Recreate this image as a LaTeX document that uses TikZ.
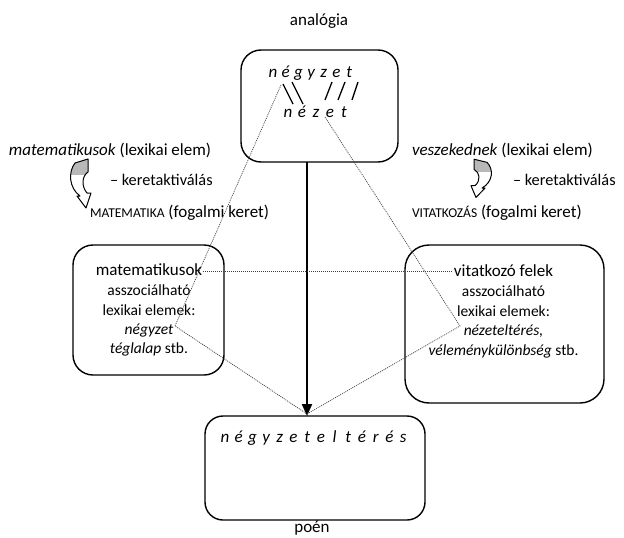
\documentclass[tikz,border=0pt]{standalone}
\usepackage{fontspec}
\setmainfont{Carlito}
\usetikzlibrary{arrows.meta}
\begin{document}
\begin{tikzpicture}[x=1pt,y=-1pt,
  txt/.style={inner sep=0pt, outer sep=0pt, font=\fontsize{17}{20}\selectfont},
  ittxt/.style={inner sep=0pt, outer sep=0pt, font=\fontsize{17}{20}\selectfont\itshape},
  stxt/.style={inner sep=0pt, outer sep=0pt, font=\fontsize{15.5}{18}\selectfont},
  sittxt/.style={inner sep=0pt, outer sep=0pt, font=\fontsize{15.5}{18}\selectfont\itshape},
  box/.style={draw, line width=1.4pt, rounded corners=20pt},
  link/.style={draw=black!75, line width=0.7pt, dash pattern=on 1pt off 1pt},
  stroke/.style={line width=1.3pt},
  main/.style={line width=2pt, -{Triangle[length=12pt,width=10pt]}},
  curvarr/.pic={
    \begin{scope}
      \clip (-6,3) -- (7,-1) -- (7,12) .. controls (1,16) and (0,26) .. (6,33) -- (10,33) -- (5,48) -- (-4,36) -- (-1,36) .. controls (-12,28) and (-13,12) .. (-6,3) -- cycle;
      \fill[black!28] (-20,-5) rectangle (20,15);
    \end{scope}
    \draw[line width=1pt, line join=round] (-6,3) -- (7,-1) -- (7,12) .. controls (1,16) and (0,26) .. (6,33) -- (10,33) -- (5,48) -- (-4,36) -- (-1,36) .. controls (-12,28) and (-13,12) .. (-6,3) -- cycle;
  }
]
\useasboundingbox[fill=white] (0,0) rectangle (624,538);

% title
\node[txt, anchor=base] (analogia) at (319,25) {analógia};

% boxes
\draw[box] (241,50) rectangle (398,162);
\coordinate (topbot) at (307,162);
\draw[box] (73,245) rectangle (224,375);
\draw[box, rounded corners=24pt] (405,245) rectangle (604,403);
\draw[box, rounded corners=18pt] (205,416) rectangle (425,520);
\coordinate (bottop) at (307,416);

% top box letters
\foreach \c [count=\i from 0] in {n,é,g,y,z,e,t}
  \node[ittxt, anchor=base] (ng\i) at (273+12.7*\i,77) {\c};
\foreach \c [count=\i from 0] in {n,é,z,e,t}
  \node[ittxt, anchor=base] (nz\i) at (288+14*\i,117) {\c};

% letter correspondences
\coordinate (a1) at (283,84);  \coordinate (b1) at (293,104);
\coordinate (a2) at (292,82);  \coordinate (b2) at (303,104);
\coordinate (a3) at (332,82);  \coordinate (b3) at (325,100);
\coordinate (a4) at (345,82);  \coordinate (b4) at (338,100);
\coordinate (a5) at (358,82);  \coordinate (b5) at (352,100);
\foreach \k in {1,...,5} \draw[stroke] (a\k) -- (b\k);

% side labels, left
\node[txt, anchor=base west] (lex1) at (9,155) {\textit{matematikusok} (lexikai elem)};
\node[txt, anchor=base west, font=\fontsize{16.3}{19}\selectfont] (kret1) at (110,185) {– keretaktiválás};
\node[txt, anchor=base west] (frame1) at (90,217) {{\fontsize{13.5}{16}\selectfont MATEMATIKA} (fogalmi keret)};
\pic at (81,160) {curvarr};

% side labels, right
\node[txt, anchor=base west] (lex2) at (412,155) {\textit{veszekednek} (lexikai elem)};
\node[txt, anchor=base west, font=\fontsize{16.3}{19}\selectfont] (kret2) at (513,185) {– keretaktiválás};
\node[txt, anchor=base west] (frame2) at (412,217) {{\fontsize{13.5}{16}\selectfont VITATKOZÁS} (fogalmi keret)};
\pic[xscale=-1, yscale=0.78] at (481,160) {curvarr};

% left box text
\node[txt, anchor=base] (lm1) at (149,275) {matematikusok};
\node[stxt, anchor=base] (lm2) at (149,295) {asszociálható};
\node[stxt, anchor=base] (lm3) at (149,315) {lexikai elemek:};
\node[sittxt, anchor=base] (lm4) at (149,334) {négyzet};
\node[stxt, anchor=base] (lm5) at (149,353) {\textit{téglalap} stb.};

% right box text
\node[txt, anchor=base] (rm1) at (503.5,276) {vitatkozó felek};
\node[stxt, anchor=base] (rm2) at (503.5,296) {asszociálható};
\node[stxt, anchor=base] (rm3) at (503.5,316) {lexikai elemek:};
\node[sittxt, anchor=base] (rm4) at (503.5,335) {nézeteltérés,};
\node[stxt, anchor=base] (rm5) at (503.5,355) {\textit{véleménykülönbség} stb.};

% bottom box letters
\foreach \c [count=\i from 0] in {n,é,g,y,z,e,t,e,l,t,é,r,é,s}
  \node[ittxt, anchor=base] (pn\i) at (225+13.7*\i,442) {\c};
\node[txt, anchor=base] (poen) at (312,532) {poén};

% main arrow
\draw[main] (topbot) -- (bottop);

% dotted links
\coordinate (sA) at (281,85);
\coordinate (cA) at (175,326);
\coordinate (sB) at (325,117);
\coordinate (cB) at (460,326);
\coordinate (tip) at (307,414);
\draw[link] (sA) -- (cA) -- (tip);
\draw[link] (sB) -- (cB) -- (tip);
\draw[link] ([xshift=1pt]lm1.east |- 0,271) -- ([xshift=-1pt]rm1.west |- 0,271);
\end{tikzpicture}
\end{document}
